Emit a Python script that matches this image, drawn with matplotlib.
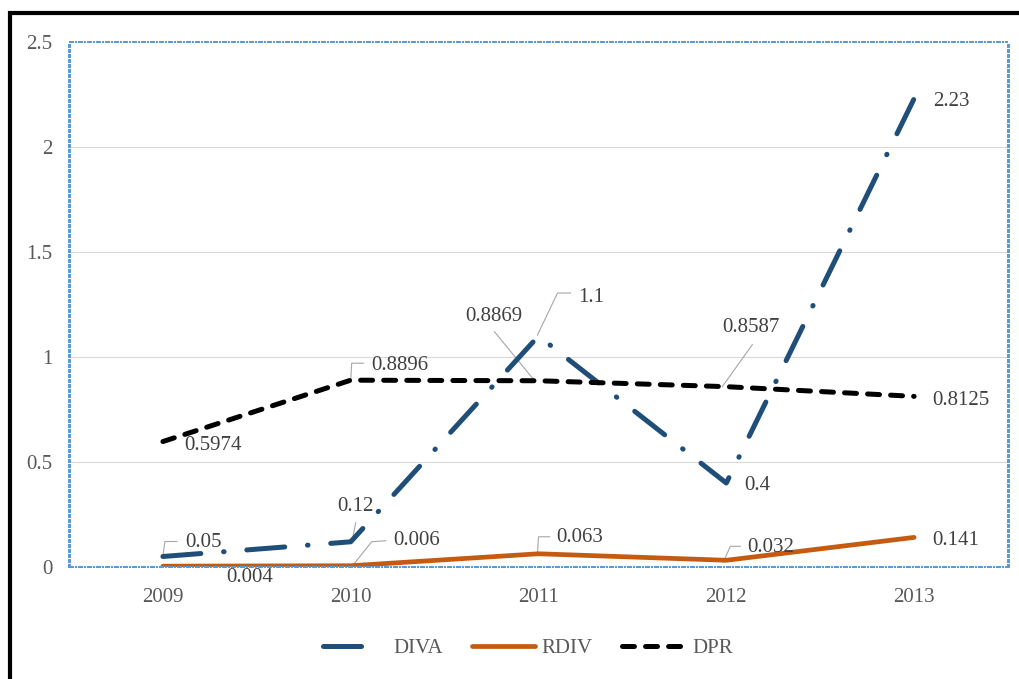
import matplotlib
matplotlib.use("Agg")
import matplotlib.pyplot as plt
from matplotlib.lines import Line2D
from matplotlib.transforms import IdentityTransform
from matplotlib.ticker import FuncFormatter
import numpy as np

# ---- data -------------------------------------------------------------
years = ["2009", "2010", "2011", "2012", "2013"]
diva = [0.05, 0.12, 1.1, 0.4, 2.23]
rdiv = [0.004, 0.006, 0.063, 0.032, 0.141]
dpr = [0.5974, 0.8896, 0.8869, 0.8587, 0.8125]
yticks = [0, 0.5, 1, 1.5, 2, 2.5]
series_names = ["DIVA", "RDIV", "DPR"]

# ---- style ------------------------------------------------------------
plt.rcParams["font.family"] = ["Liberation Serif", "DejaVu Serif"]
plt.rcParams["lines.scale_dashes"] = False

C_DIVA = "#1F4E79"
C_RDIV = "#C55A11"
C_DPR = "#000000"
C_TEXT = "#404040"
C_TICK = "#595959"
C_GRID = "#D9D9D9"
C_FRAME = "#5B9BD5"
C_LEADER = "#A6A6A6"
FS = 15

W, H = 1020, 679
fig = plt.figure(figsize=(W / 100, H / 100), dpi=100)
ax = fig.add_axes([69 / W, 1 - 567 / H, (1008 - 69) / W, (567 - 42) / H])

x = np.arange(len(years))
ax.set_xlim(-0.5, len(years) - 0.5)
ax.set_ylim(0, 2.5)

ax.set_yticks(yticks)
ax.yaxis.set_major_formatter(FuncFormatter(lambda v, p: f"{v:g}"))
ax.set_xticks(x)
ax.set_xticklabels(years)
ax.tick_params(axis="both", length=0, labelsize=FS, colors=C_TICK)
ax.tick_params(axis="y", pad=12)
ax.tick_params(axis="x", pad=15)

# horizontal gridlines
for t in yticks[:-1]:
    ax.axhline(t, color=C_GRID, lw=0.8, zorder=0)

# dotted plot-area frame, drawn crisp (no antialiasing)
for s in ax.spines.values():
    s.set_visible(False)
frame_kw = dict(transform=ax.transAxes, color=C_FRAME, antialiased=False,
                clip_on=False, zorder=4)
ax.add_line(Line2D([0, 0], [0, 1], lw=2.2, dashes=(2.2, 1.4), **frame_kw))
ax.add_line(Line2D([1, 1], [0, 1], lw=2.2, dashes=(2.2, 1.4), **frame_kw))
ax.add_line(Line2D([0, 1], [1, 1], lw=1.5, dashes=(2.9, 1.4, 1.4, 1.4), **frame_kw))
ax.add_line(Line2D([0, 1], [0, 0], lw=1.2, dashes=(2.9, 1.4, 1.4, 1.4), **frame_kw))

# ---- series -----------------------------------------------------------
lw = 3.6
l_diva, = ax.plot(x, diva, color=C_DIVA, lw=lw, dashes=(27.4, 16.4, 0.4, 16.4),
                  dash_capstyle="round", solid_capstyle="round", zorder=3)
l_rdiv, = ax.plot(x, rdiv, color=C_RDIV, lw=3.4, solid_capstyle="round",
                  solid_joinstyle="round", zorder=3)
l_dpr, = ax.plot(x, dpr, color=C_DPR, lw=lw, dashes=(8.6, 8.0),
                 dash_capstyle="round", zorder=3)


# ---- data labels with leader lines (offsets in pixels, +y downward) ----
def label(i, v, off, ha="center", leader=None):
    ax.annotate(f"{v:g}", xy=(i, v), xytext=(off[0], -off[1]),
                textcoords="offset pixels", ha=ha, va="center",
                fontsize=FS, color=C_TEXT, zorder=5)
    if leader:
        px, py = ax.transData.transform((i, v))
        xs = [px + dx for dx, dy in leader]
        ys = [py - dy for dx, dy in leader]
        ax.add_line(Line2D(xs, ys, transform=IdentityTransform(),
                           color=C_LEADER, lw=0.8, zorder=2))


# DIVA
label(0, diva[0], (22, -14), "left", [(0, 0), (2, -15), (14, -15)])
label(1, diva[1], (5, -35), "center", [(1, 1), (5, -19)])
label(2, diva[2], (40, -39), "left", [(-1, -1), (19, -43), (32, -43)])
label(3, diva[3], (31, 3))
label(4, diva[4], (37, 3))
# RDIV
label(0, rdiv[0], (87, 11), "center", [(0, 1), (50, 9)])
label(1, rdiv[1], (43, -25), "left", [(1, 1), (21, -24), (35, -25)])
label(2, rdiv[2], (18, -16), "left", [(-1, -1), (0, -17), (11, -17)])
label(3, rdiv[3], (21, -13), "left", [(-3, 2), (4, -14), (14, -14)])
label(4, rdiv[4], (42, 3))
# DPR
label(0, dpr[0], (50, 4))
label(1, dpr[1], (21, -15), "left", [(0, 0), (1, -17), (13, -17)])
label(2, dpr[2], (-45, -64), "center", [(-3, 1), (-44, -49)])
label(3, dpr[3], (25, -59), "center", [(-4, 0), (26, -42)])
label(4, dpr[4], (47, 4))

# ---- legend -----------------------------------------------------------
h_diva = Line2D([], [], color=C_DIVA, lw=lw, dashes=(27.4, 100),
                dash_capstyle="round")
leg = fig.legend([h_diva, l_rdiv, l_dpr], series_names, loc="center",
                 bbox_to_anchor=(528 / W, 1 - 648 / H), ncol=3, frameon=False,
                 fontsize=FS, handlelength=3.0, handletextpad=0.35,
                 columnspacing=1.4, borderpad=0, borderaxespad=0)
for t in leg.get_texts():
    t.set_color(C_TICK)

# ---- outer black border (top and left edges) --------------------------
fig.add_artist(Line2D([8 / W, 1], [1 - 13 / H, 1 - 13 / H],
                      transform=fig.transFigure, color="black", lw=3.0,
                      solid_capstyle="butt"))
fig.add_artist(Line2D([10 / W, 10 / W], [0, 1 - 11 / H],
                      transform=fig.transFigure, color="black", lw=3.0,
                      solid_capstyle="butt"))

fig.savefig("out.png", dpi=100)
